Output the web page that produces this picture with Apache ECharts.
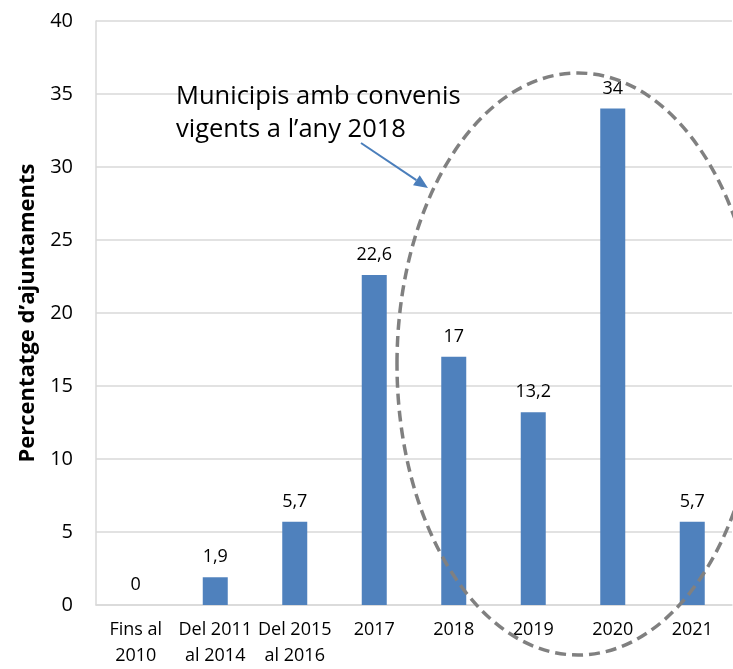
<!DOCTYPE html>
<html>
<head>
<meta charset="utf-8">
<script src="https://cdn.jsdelivr.net/npm/echarts@6/dist/echarts.min.js"></script>
<style>
  html, body { margin: 0; padding: 0; background: #ffffff; }
  #chart { width: 733px; height: 669px; }
</style>
</head>
<body>
<div id="chart"></div>
<script>
// Period in which each municipality signed its agreement
const categories = ['Fins al\n2010', 'Del 2011\nal 2014', 'Del 2015\nal 2016', '2017', '2018', '2019', '2020', '2021'];
// Share of town councils (%)
const percentages = [0, 1.9, 5.7, 22.6, 17, 13.2, 34, 5.7];
// Value axis ticks
const yTicks = [0, 5, 10, 15, 20, 25, 30, 35, 40];

const FONT = '"Open Sans", "Noto Sans", sans-serif';
const GRID_COLOR = '#d9d9d9';

const chart = echarts.init(document.getElementById('chart'), null, { renderer: 'canvas' });

const formatNum = v => String(v).replace('.', ',');

chart.setOption({
  animation: false,
  backgroundColor: '#ffffff',
  grid: { left: 96, right: 1, top: 21, bottom: 62, containLabel: false },
  xAxis: {
    type: 'category',
    data: categories,
    axisLine: { show: true, lineStyle: { color: GRID_COLOR, width: 1.5 } },
    axisTick: { show: false },
    axisLabel: {
      color: '#000000',
      fontFamily: FONT,
      fontSize: 18,
      lineHeight: 26,
      margin: 12,
      interval: 0
    }
  },
  yAxis: {
    type: 'value',
    min: yTicks[0],
    max: yTicks[yTicks.length - 1],
    interval: yTicks[1] - yTicks[0],
    name: 'Percentatge d\u2019ajuntaments',
    nameLocation: 'middle',
    nameGap: 56,
    nameTextStyle: {
      color: '#000000',
      fontFamily: FONT,
      fontSize: 22,
      fontWeight: 'bold'
    },
    axisLine: { show: true, lineStyle: { color: GRID_COLOR, width: 1.5 } },
    axisTick: { show: false },
    axisLabel: {
      color: '#000000',
      fontFamily: FONT,
      fontSize: 20,
      margin: 23
    },
    splitLine: { show: true, lineStyle: { color: GRID_COLOR, width: 1.5 } }
  },
  series: [{
    type: 'bar',
    data: percentages,
    barWidth: 25,
    itemStyle: { color: '#4F81BD' },
    label: {
      show: true,
      position: 'top',
      distance: 11,
      color: '#000000',
      fontFamily: FONT,
      fontSize: 18,
      formatter: p => formatNum(p.value)
    }
  }]
});

// Annotation: callout text, arrow, and the dashed ellipse enclosing 2018-2021
const arrowStart = [361, 143];
const arrowTip = [428, 188];
const ang = Math.atan2(arrowTip[1] - arrowStart[1], arrowTip[0] - arrowStart[0]);
const headLen = 14, headHalf = 6;
const base = [arrowTip[0] - headLen * Math.cos(ang), arrowTip[1] - headLen * Math.sin(ang)];
const headPts = [
  arrowTip,
  [base[0] + headHalf * Math.sin(ang), base[1] - headHalf * Math.cos(ang)],
  [base[0] - headHalf * Math.sin(ang), base[1] + headHalf * Math.cos(ang)]
];

chart.setOption({
  graphic: [
    {
      type: 'ellipse',
      shape: { cx: 578, cy: 364, rx: 181, ry: 291 },
      style: { fill: null, stroke: '#808080', lineWidth: 3.5, lineDash: [11, 6] },
      z: 100
    },
    {
      type: 'text',
      left: 176,
      top: 80,
      style: {
        text: 'Municipis amb convenis\nvigents a l\u2019any 2018',
        font: '25.5px ' + FONT,
        lineHeight: 33,
        fill: '#000000'
      },
      z: 100
    },
    {
      type: 'line',
      shape: { x1: arrowStart[0], y1: arrowStart[1], x2: base[0], y2: base[1] },
      style: { stroke: '#4A7EBB', lineWidth: 2 },
      z: 100
    },
    {
      type: 'polygon',
      shape: { points: headPts },
      style: { fill: '#4A7EBB' },
      z: 100
    }
  ]
});
</script>
</body>
</html>
